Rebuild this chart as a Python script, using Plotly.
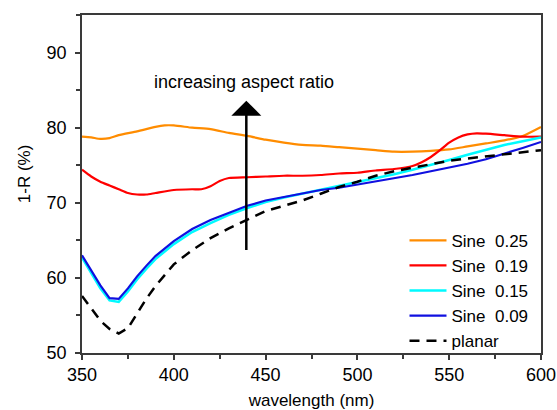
import plotly.graph_objects as go

# wavelength grids (nm)
wl_orange = [350, 355, 360, 365, 370, 380, 390, 395, 400, 410, 420, 430, 440, 450, 460, 470, 480, 490,
             500, 510, 520, 530, 540, 550, 560, 570, 580, 590, 600]
sine_025 = [78.8, 78.7, 78.5, 78.6, 79.0, 79.5, 80.1, 80.3, 80.3, 80.0, 79.8, 79.3, 78.9, 78.4, 78.0, 77.7,
            77.6, 77.4, 77.2, 77.0, 76.8, 76.8, 76.9, 77.1, 77.5, 77.9, 78.3, 78.9, 80.1]

wl_red = [350, 355, 360, 365, 370, 375, 380, 385, 390, 400, 410, 415, 420, 425, 430, 440, 450, 460, 470,
          480, 490, 500, 510, 520, 530, 535, 540, 545, 550, 555, 560, 565, 570, 580, 590, 600]
sine_019 = [74.4, 73.5, 72.8, 72.3, 71.8, 71.3, 71.1, 71.1, 71.3, 71.7, 71.8, 71.8, 72.2, 72.9, 73.3, 73.4,
            73.5, 73.6, 73.6, 73.7, 73.9, 74.0, 74.3, 74.5, 74.9, 75.4, 76.1, 77.0, 78.0, 78.7, 79.1, 79.25,
            79.2, 79.0, 78.8, 78.8]

wl = [350, 355, 360, 365, 370, 375, 380, 385, 390, 400, 410, 420, 430, 440, 450, 460, 470, 480, 490,
      500, 510, 520, 530, 540, 550, 560, 570, 580, 590, 600]
sine_015 = [62.7, 60.6, 58.6, 57.0, 56.8, 58.2, 59.8, 61.2, 62.5, 64.5, 66.1, 67.3, 68.4, 69.3, 70.1, 70.7,
            71.2, 71.8, 72.3, 72.7, 73.2, 73.8, 74.4, 75.0, 75.7, 76.4, 77.1, 77.7, 78.2, 78.7]
sine_009 = [63.0, 61.0, 59.0, 57.3, 57.2, 58.6, 60.2, 61.6, 62.9, 64.9, 66.5, 67.7, 68.7, 69.6, 70.3, 70.8,
            71.2, 71.7, 72.0, 72.4, 72.8, 73.3, 73.7, 74.2, 74.7, 75.2, 75.8, 76.5, 77.3, 78.1]
planar = [57.6, 56.0, 54.3, 53.2, 52.6, 53.3, 55.2, 57.2, 58.9, 61.8, 63.7, 65.3, 66.6, 67.8, 68.9, 69.6,
          70.3, 71.2, 72.1, 72.8, 73.6, 74.2, 74.7, 75.2, 75.6, 75.9, 76.2, 76.5, 76.8, 77.0]

x_ticks = [350, 400, 450, 500, 550, 600]
y_ticks = [50, 60, 70, 80, 90]

FONT = "Liberation Sans, Arial, sans-serif"
AXC = "#3a3a3a"

fig = go.Figure()
fig.add_trace(go.Scatter(x=wl_orange, y=sine_025, mode="lines", name="Sine  0.25",
                         line=dict(color="#FF8C00", width=2.2, shape="spline", smoothing=0.6)))
fig.add_trace(go.Scatter(x=wl_red, y=sine_019, mode="lines", name="Sine  0.19",
                         line=dict(color="#FF0000", width=2.2, shape="spline", smoothing=0.6)))
fig.add_trace(go.Scatter(x=wl, y=sine_015, mode="lines", name="Sine  0.15",
                         line=dict(color="#00FAFF", width=2.5)))
fig.add_trace(go.Scatter(x=wl, y=sine_009, mode="lines", name="Sine  0.09",
                         line=dict(color="#1010E0", width=2.2)))
fig.add_trace(go.Scatter(x=wl, y=planar, mode="lines", name="planar",
                         line=dict(color="black", width=2.5, dash="10px,7px")))

fig.add_annotation(x=439.5, y=83.6, ax=439.5, ay=63.5, xref="x", yref="y", axref="x", ayref="y",
                   showarrow=True, arrowhead=1, arrowsize=2.0, arrowwidth=2.5, arrowcolor="black", text="")
fig.add_annotation(x=438.5, y=86.1, xref="x", yref="y", text="increasing aspect ratio", showarrow=False,
                   font=dict(family=FONT, size=18, color="black"))
fig.add_annotation(x=-0.1264, y=0.532, xref="paper", yref="paper", text="1-R (%)", showarrow=False,
                   textangle=-90, xanchor="center", yanchor="middle",
                   font=dict(family=FONT, size=17, color="black"))

axis_common = dict(showline=True, linecolor=AXC, linewidth=1.5, mirror=True, ticks="outside",
                   ticklen=5, tickwidth=1.5, tickcolor=AXC, showgrid=False, zeroline=False,
                   automargin=False, tickfont=dict(family=FONT, size=18, color="black"))

fig.update_xaxes(range=[350, 600], tickvals=x_ticks,
                 minor=dict(ticks="outside", ticklen=4, tickwidth=1.5, tickcolor=AXC, dtick=25, tick0=350),
                 title=dict(text="wavelength (nm)", font=dict(family=FONT, size=17, color="black"), standoff=13),
                 **axis_common)
fig.update_yaxes(range=[50, 95], tickvals=y_ticks, ticklabelstandoff=5,
                 minor=dict(ticks="outside", ticklen=4, tickwidth=1.5, tickcolor=AXC, dtick=5, tick0=50),
                 **axis_common)

fig.update_layout(
    width=557, height=410,
    margin=dict(l=82, r=16, t=15, b=57.3, autoexpand=False),
    paper_bgcolor="white", plot_bgcolor="white",
    showlegend=True,
    legend=dict(x=0.7026, y=0.184, xanchor="left", yanchor="middle", bgcolor="rgba(0,0,0,0)",
                font=dict(family=FONT, size=17, color="black"), tracegroupgap=0, itemwidth=37),
)

fig.write_html("out.html", config={"displayModeBar": False},
               post_script="document.body.style.margin='0';document.body.style.overflow='hidden';")
